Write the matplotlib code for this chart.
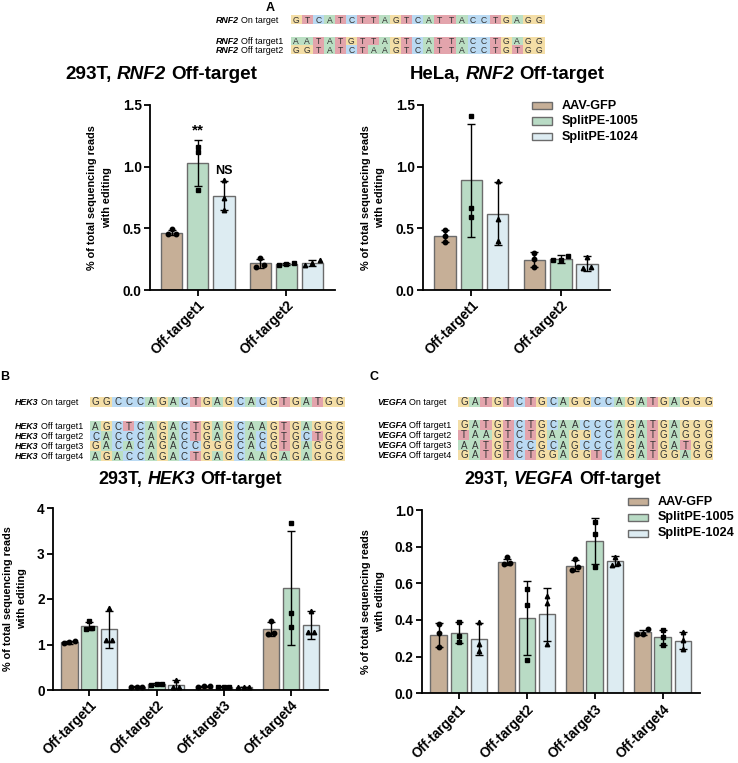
import numpy as np
import matplotlib.pyplot as plt
from matplotlib.patches import Rectangle

plt.rcParams['font.family'] = ['Liberation Sans', 'DejaVu Sans']

W, H = 738, 763
fig = plt.figure(figsize=(W / 100, H / 100), dpi=100)


def fx(px):
    return px / W


def fy(py):
    return 1 - py / H


# ---- data ----
conditions = ["AAV-GFP", "SplitPE-1005", "SplitPE-1024"]
bar_colors = ["#C6AF97", "#B9DBC5", "#DDECF2"]
markers = ["o", "s", "^"]

rnf2_groups = ["Off-target1", "Off-target2"]
four_groups = ["Off-target1", "Off-target2", "Off-target3", "Off-target4"]

# 293T, RNF2
rnf2_293t_mean = [[0.465, 0.215], [1.03, 0.207], [0.765, 0.222]]
rnf2_293t_sd = [[0.023, 0.04], [0.19, 0.008], [0.12, 0.025]]
rnf2_293t_pts = [
    [[0.495, 0.455, 0.455], [0.26, 0.20, 0.185]],
    [[1.16, 1.12, 0.81], [0.215, 0.21, 0.20]],
    [[0.89, 0.75, 0.65], [0.245, 0.22, 0.20]],
]
rnf2_293t_sig = ["", "**", "NS"]

# HeLa, RNF2
rnf2_hela_mean = [[0.44, 0.245], [0.888, 0.25], [0.62, 0.212]]
rnf2_hela_sd = [[0.05, 0.06], [0.455, 0.03], [0.255, 0.06]]
rnf2_hela_pts = [
    [[0.49, 0.44, 0.39], [0.30, 0.25, 0.185]],
    [[1.41, 0.665, 0.59], [0.275, 0.245, 0.24]],
    [[0.885, 0.575, 0.40], [0.27, 0.19, 0.175]],
]

# 293T, HEK3
hek3_mean = [[1.05, 0.07, 0.08, 1.34], [1.41, 0.13, 0.07, 2.25], [1.33, 0.12, 0.065, 1.43]]
hek3_sd = [[0.03, 0.01, 0.01, 0.16], [0.09, 0.015, 0.01, 1.25], [0.40, 0.09, 0.01, 0.30]]
hek3_pts = [
    [[1.08, 1.05, 1.04], [0.07, 0.065, 0.06], [0.085, 0.08, 0.075], [1.52, 1.26, 1.24]],
    [[1.52, 1.36, 1.35], [0.14, 0.125, 0.12], [0.075, 0.07, 0.065], [3.68, 1.69, 1.38]],
    [[1.80, 1.10, 1.10], [0.22, 0.07, 0.07], [0.07, 0.065, 0.06], [1.74, 1.27, 1.27]],
]

# 293T, VEGFA
vegfa_mean = [[0.318, 0.715, 0.697, 0.333], [0.331, 0.41, 0.83, 0.305], [0.298, 0.43, 0.72, 0.288]]
vegfa_sd = [[0.066, 0.017, 0.03, 0.015], [0.058, 0.20, 0.125, 0.04], [0.088, 0.145, 0.027, 0.048]]
vegfa_pts = [
    [[0.38, 0.33, 0.25], [0.745, 0.71, 0.705], [0.73, 0.69, 0.67], [0.35, 0.325, 0.325]],
    [[0.39, 0.31, 0.28], [0.57, 0.48, 0.18], [0.935, 0.87, 0.69], [0.345, 0.305, 0.265]],
    [[0.39, 0.27, 0.23], [0.53, 0.49, 0.27], [0.745, 0.71, 0.70], [0.335, 0.29, 0.24]],
]

# sequences
rnf2_names = ["On target", "Off target1", "Off target2"]
rnf2_seqs = ["GTCATCTTAGTCATTACCTGAGG", "AATATGTTAGTCATTACCTGAGG", "GGTATCTAAGTCATTACCTGTGG"]
hek3_names = ["On target", "Off target1", "Off target2", "Off target3", "Off target4"]
hek3_seqs = ["GGCCCAGACTGAGCACGTGATGG", "AGCTCAGACTGAGCAAGTGAGGG", "CACCCAGACTGAGCACGTGCTGG",
             "GACACAGACCGGGCACGTGAGGG", "AGACCAGACTGAGCAAGAGAGGG"]
vegfa_names = ["On target", "Off target1", "Off target2", "Off target3", "Off target4"]
vegfa_seqs = ["GATGTCTGCAGGCCAGATGAGGG", "GATGTCTGCAACCCAGATGAGGG", "TAAGTCTGAAGGCCAGATGAGGG",
              "AATGTCCGCAGCCCAGATGATGG", "GATGTCTGGAGGTCAGATGGAGG"]
base_colors = {'G': '#F4DEA6', 'A': '#BBDFC3', 'C': '#BADAF3', 'T': '#E3A4AC'}

renderer = fig.canvas.get_renderer()


def rich(x, yc, parts, size, ha='left'):
    # parts joined by a space, each with its own style
    em = size * fig.dpi / 72
    gap = 0.278 * em
    base = fy(yc + 0.36 * em)
    items = []
    for s, style, weight in parts:
        t = fig.text(0, base, s, fontsize=size, fontstyle=style, fontweight=weight,
                     va='baseline', ha='left')
        items.append((t, t.get_window_extent(renderer).width))
    total = sum(w for _, w in items) + gap * (len(items) - 1)
    cur = x - total / 2 if ha == 'center' else x
    for t, w in items:
        t.set_x(fx(cur))
        cur += w + gap


def seq_block(gene, names, seqs, xlab, xseq, ys, cw, ch, fs):
    for name, seq, yc in zip(names, seqs, ys):
        rich(xlab, yc, [(gene, 'italic', 'bold'), (name, 'normal', 'normal')], 6.4)
        for k, b in enumerate(seq):
            fig.add_artist(Rectangle((fx(xseq + k * cw), fy(yc + ch / 2)), cw / W, ch / H,
                                     transform=fig.transFigure, facecolor=base_colors[b],
                                     edgecolor='none'))
            fig.text(fx(xseq + (k + 0.5) * cw), fy(yc + 0.36 * fs * 100 / 72), b,
                     ha='center', va='baseline', fontsize=fs, color='#333333')


def spread(vals, tol):
    vals = np.asarray(vals)
    offs = np.zeros(len(vals))
    clusters = []
    for i in np.argsort(vals):
        if clusters and abs(vals[i] - vals[clusters[-1][-1]]) < tol:
            clusters[-1].append(i)
        else:
            clusters.append([i])
    for c in clusters:
        n = len(c)
        for k, i in enumerate(c):
            offs[i] = (k - (n - 1) / 2) * (0.085 if n > 2 else 0.09)
    return offs


def bar_panel(box, groups, means, sds, pts, ymax, yticks, ylabels, ylab_x):
    left, top, right, bottom = box
    ax = fig.add_axes([fx(left), fy(bottom), (right - left) / W, (bottom - top) / H])
    x = np.arange(len(groups))
    for j in range(3):
        xs = x + (j - 1) * 0.295
        ax.bar(xs, means[j], width=0.24, color=bar_colors[j], edgecolor='#6b6b6b',
               linewidth=1.0, zorder=2)
        ax.errorbar(xs, means[j], yerr=sds[j], fmt='none', ecolor='black', elinewidth=1.0,
                    capsize=3.2, capthick=1.0, zorder=3)
        for g in range(len(groups)):
            offs = spread(pts[j][g], 0.025 * ymax)
            ax.plot(xs[g] + offs, pts[j][g], linestyle='none', marker=markers[j], ms=3.2,
                    color='black', zorder=4, clip_on=False)
    ax.set_xlim(-0.54, len(groups) - 1 + 0.55)
    ax.set_ylim(0, ymax)
    for s in ['top', 'right']:
        ax.spines[s].set_visible(False)
    for s in ['left', 'bottom']:
        ax.spines[s].set_linewidth(1.3)
    ax.tick_params(direction='out', length=4.5, width=1.3, pad=1.5)
    ax.set_yticks(yticks)
    ax.set_yticklabels(ylabels, fontsize=9.8, fontweight='bold')
    ax.set_xticks(x)
    ax.set_xticklabels(groups, rotation=45, ha='right', rotation_mode='anchor',
                       fontsize=9.8, fontweight='bold')
    fig.text(fx(ylab_x), fy((top + bottom) / 2), "% of total sequencing reads\nwith editing",
             rotation=90, ha='center', va='center', multialignment='center',
             fontsize=7.8, fontweight='bold', linespacing=1.6)
    return ax


def legend(x0, ys):
    for j, yc in enumerate(ys):
        fig.add_artist(Rectangle((fx(x0), fy(yc + 3.5)), 20 / W, 7 / H, transform=fig.transFigure,
                                 facecolor=bar_colors[j], edgecolor='#6b6b6b', linewidth=1.0))
        fig.text(fx(x0 + 30), fy(yc), conditions[j], ha='left', va='center',
                 fontsize=9.1, fontweight='bold')


# ---- panel A ----
fig.text(fx(270), fy(8), "A", fontsize=9, fontweight='bold', ha='center', va='center')
seq_block("RNF2", rnf2_names, rnf2_seqs, 216, 290.7, [19.5, 41.2, 49.6], 11.05, 8.6, 6.2)

rich(161, 72, [("293T,", 'normal', 'bold'), ("RNF2", 'italic', 'bold'), ("Off-target", 'normal', 'bold')], 13.6, 'center')
ax1 = bar_panel((150, 105, 335, 290), rnf2_groups, rnf2_293t_mean, rnf2_293t_sd, rnf2_293t_pts,
                1.5, [0, 0.5, 1.0, 1.5], ["0.0", "0.5", "1.0", "1.5"], 99.5)
for j, lab in enumerate(rnf2_293t_sig):
    if lab:
        top_val = rnf2_293t_mean[j][0] + rnf2_293t_sd[j][0]
        ax1.annotate(lab, (0 + (j - 1) * 0.295, top_val), xytext=(0, 1.5 if lab == "**" else 3),
                     textcoords='offset points', ha='center', va='bottom',
                     fontsize=11 if lab == "**" else 9, fontweight='bold')

rich(507, 72, [("HeLa,", 'normal', 'bold'), ("RNF2", 'italic', 'bold'), ("Off-target", 'normal', 'bold')], 13.4, 'center')
bar_panel((423, 105, 610, 290), rnf2_groups, rnf2_hela_mean, rnf2_hela_sd, rnf2_hela_pts,
          1.5, [0, 0.5, 1.0, 1.5], ["0.0", "0.5", "1.0", "1.5"], 373)
legend(532, [105.7, 121, 136.7])

# ---- panel B ----
fig.text(fx(5), fy(377), "B", fontsize=9, fontweight='bold', ha='center', va='center')
seq_block("HEK3", hek3_names, hek3_seqs, 15, 90, [401.5, 426, 436, 446, 456], 11.09, 10, 7.0)
rich(190, 477.5, [("293T,", 'normal', 'bold'), ("HEK3", 'italic', 'bold'), ("Off-target", 'normal', 'bold')], 12.9, 'center')
bar_panel((53, 508, 328, 690), four_groups, hek3_mean, hek3_sd, hek3_pts,
          4, [0, 1, 2, 3, 4], ["0", "1", "2", "3", "4"], 15)

# ---- panel C ----
fig.text(fx(374), fy(377), "C", fontsize=9, fontweight='bold', ha='center', va='center')
seq_block("VEGFA", vegfa_names, vegfa_seqs, 377, 458.3, [401.5, 425, 435, 445, 455], 11.09, 10, 7.0)
rich(562.5, 478, [("293T,", 'normal', 'bold'), ("VEGFA", 'italic', 'bold'), ("Off-target", 'normal', 'bold')], 12.9, 'center')
bar_panel((422, 510, 700, 693.3), four_groups, vegfa_mean, vegfa_sd, vegfa_pts,
          1.0, [0, 0.2, 0.4, 0.6, 0.8, 1.0], ["0.0", "0.2", "0.4", "0.6", "0.8", "1.0"], 373)
legend(628, [501.7, 517.3, 533.3])

fig.savefig("out.png", dpi=100)
